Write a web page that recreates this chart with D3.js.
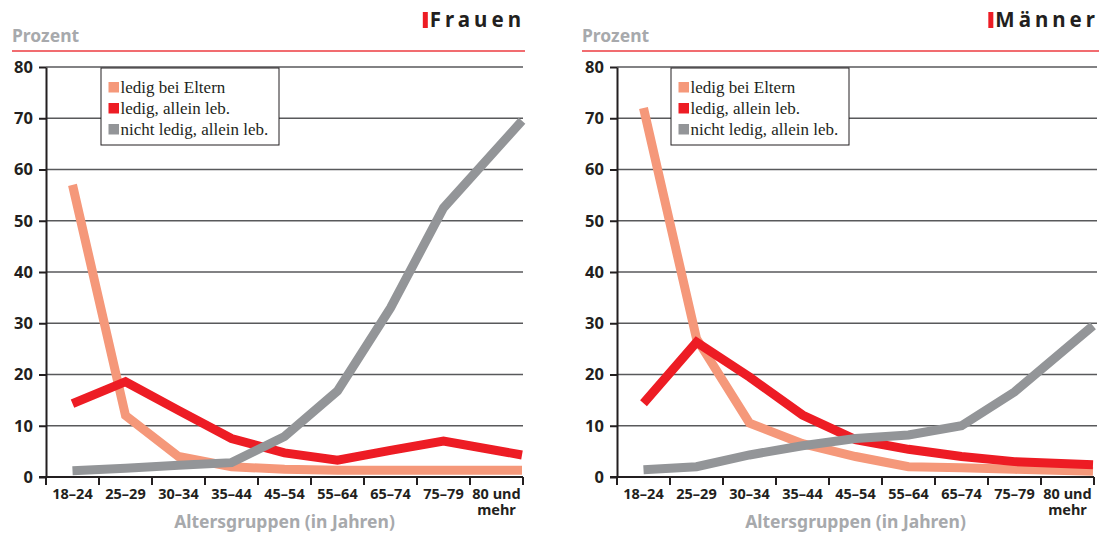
<!DOCTYPE html>
<html>
<head>
<meta charset="utf-8">
<script src="https://cdn.jsdelivr.net/npm/d3@7"></script>
<style>
  body { margin: 0; background: #fff; }
  svg { display: block; }
</style>
</head>
<body>
<script>
// age groups on the x axis
const ageGroups = ['18–24', '25–29', '30–34', '35–44', '45–54', '55–64', '65–74', '75–79', '80 und mehr']
const yTicks = [0, 10, 20, 30, 40, 50, 60, 70, 80]
const seriesNames = ['ledig bei Eltern', 'ledig, allein leb.', 'nicht ledig, allein leb.']

// percent values
const frauenEltern = [57, 12, 4, 2, 1.5, 1.3, 1.3, 1.3, 1.3]
const frauenAllein = [14.3, 18.6, 13, 7.5, 4.7, 3.3, 5.2, 7, 4.3]
const frauenNichtLedig = [1.2, 1.7, 2.3, 2.8, 7.9, 16.8, 33, 52.5, 69.5]

const maennerEltern = [72, 27, 10.5, 6.5, 4, 2, 1.8, 1.5, 1.1]
const maennerAllein = [14.4, 26.3, 19.5, 12.1, 7.3, 5.4, 4, 3, 2.4]
const maennerNichtLedig = [1.4, 2, 4.3, 6.1, 7.5, 8.2, 10, 16.6, 29.5]

const colours = ['#f5987a', '#ed1c24', '#939598']
const dark = '#231f20'
const grey = '#a7a9ac'
const sans = "'Noto Sans', 'Open Sans', sans-serif"
const serif = "'Liberation Serif', 'DejaVu Serif', serif"

const w = 1099
const h = 536

const svg = d3.select('body')
    .append('svg')
    .attr('width', w)
    .attr('height', h)

function panel(o) {
    const g = svg.append('g')

    const x = d3.scaleBand().domain(ageGroups).range([o.x0, o.x1]).padding(0)
    const y = d3.scaleLinear().domain([0, 80]).range([477, 67])

    // points sit on band centres, the last one on the right edge
    const xl = d3.scaleLinear()
        .domain([0, 7, 8])
        .range([x(ageGroups[0]) + x.bandwidth() / 2, x(ageGroups[7]) + x.bandwidth() / 2, o.x1 - 1])

    // header
    g.append('text')
        .attr('x', o.left).attr('y', 42)
        .style('font-family', sans).style('font-weight', 700)
        .style('font-size', '17.5px').style('fill', grey)
        .text('Prozent')
    g.append('line')
        .attr('x1', o.left).attr('x2', o.right)
        .attr('y1', 51).attr('y2', 51)
        .style('stroke', '#ec3b40').style('stroke-width', 1.6)
    const title = g.append('text')
        .attr('x', o.right).attr('y', 27)
        .attr('text-anchor', 'end')
        .style('font-family', sans).style('font-weight', 700)
        .style('font-size', '20.5px').style('letter-spacing', '4px')
        .style('fill', dark)
        .text(o.title)
    const tb = title.node().getBBox()
    g.append('rect')
        .attr('x', tb.x - 7).attr('y', 12)
        .attr('width', 5).attr('height', 16)
        .style('fill', '#ed1c24')

    // gridlines
    g.selectAll('.grid')
        .data(yTicks.slice(1))
        .enter()
        .append('line')
        .attr('x1', o.x0).attr('x2', o.gridEnd)
        .attr('y1', d => y(d)).attr('y2', d => y(d))
        .style('stroke', '#58595b').style('stroke-width', 1.3)

    // y axis
    const yAxis = g.append('g')
        .attr('transform', `translate(${o.x0},0)`)
        .call(d3.axisLeft(y).tickValues(yTicks).tickSize(7).tickPadding(6).tickSizeOuter(0))
    yAxis.select('.domain').style('stroke', dark).style('stroke-width', 2)
    yAxis.selectAll('.tick line').style('stroke', dark).style('stroke-width', 2)
    yAxis.selectAll('.tick text')
        .style('font-family', sans).style('font-weight', 700)
        .style('font-size', '16.5px').style('fill', dark)

    // x axis: ticks on band edges, labels centred
    g.append('line')
        .attr('x1', o.x0 - 7).attr('x2', o.x1)
        .attr('y1', y(0)).attr('y2', y(0))
        .style('stroke', dark).style('stroke-width', 2)
    g.selectAll('.xtick')
        .data(ageGroups.map(d => x(d)).concat([o.x1]))
        .enter()
        .append('line')
        .attr('x1', d => d).attr('x2', d => d)
        .attr('y1', y(0)).attr('y2', y(0) + 8)
        .style('stroke', dark).style('stroke-width', 2)
    const xlab = g.selectAll('.xlab')
        .data(ageGroups)
        .enter()
        .append('text')
        .attr('x', d => x(d) + x.bandwidth() / 2)
        .attr('y', 499)
        .attr('text-anchor', 'middle')
        .style('font-family', sans).style('font-weight', 700)
        .style('font-size', '14.5px').style('fill', dark)
    xlab.each(function (d) {
        const parts = d === '80 und mehr' ? ['80 und', 'mehr'] : [d]
        d3.select(this).selectAll('tspan')
            .data(parts)
            .enter()
            .append('tspan')
            .attr('x', x(d) + x.bandwidth() / 2)
            .attr('dy', (p, i) => i ? 15.5 : 0)
            .text(p => p)
    })
    g.append('text')
        .attr('x', (o.x0 + o.x1) / 2).attr('y', 528)
        .attr('text-anchor', 'middle')
        .style('font-family', sans).style('font-weight', 700)
        .style('font-size', '17.5px').style('fill', grey)
        .text('Altersgruppen (in Jahren)')

    // legend
    const lg = g.append('g').attr('transform', `translate(${o.legendX},68)`)
    lg.append('rect')
        .attr('width', 178).attr('height', 77)
        .style('fill', '#fff').style('stroke', dark).style('stroke-width', 1)
    seriesNames.forEach((s, i) => {
        lg.append('rect')
            .attr('x', 7.5).attr('y', 14 + i * 21)
            .attr('width', 10.5).attr('height', 10.5)
            .style('fill', colours[i])
        lg.append('text')
            .attr('x', 19.5).attr('y', 25 + i * 21)
            .style('font-family', serif).style('font-size', '17px')
            .style('fill', dark)
            .text(s)
    })

    // lines
    const line = d3.line()
        .x((d, i) => xl(i))
        .y(d => y(d))
    g.selectAll('.series')
        .data(o.series)
        .enter()
        .append('path')
        .attr('d', line)
        .style('fill', 'none')
        .style('stroke', (d, i) => colours[i])
        .style('stroke-width', 9)
        .style('stroke-linejoin', 'miter')
        .style('stroke-linecap', 'butt')
}

panel({
    title: 'Frauen', left: 12, right: 525,
    x0: 46, x1: 523, gridEnd: 523, legendX: 101,
    series: [frauenEltern, frauenAllein, frauenNichtLedig]
})
panel({
    title: 'Männer', left: 582, right: 1099,
    x0: 617, x1: 1094, gridEnd: 1097, legendX: 671,
    series: [maennerEltern, maennerAllein, maennerNichtLedig]
})
</script>
</body>
</html>
